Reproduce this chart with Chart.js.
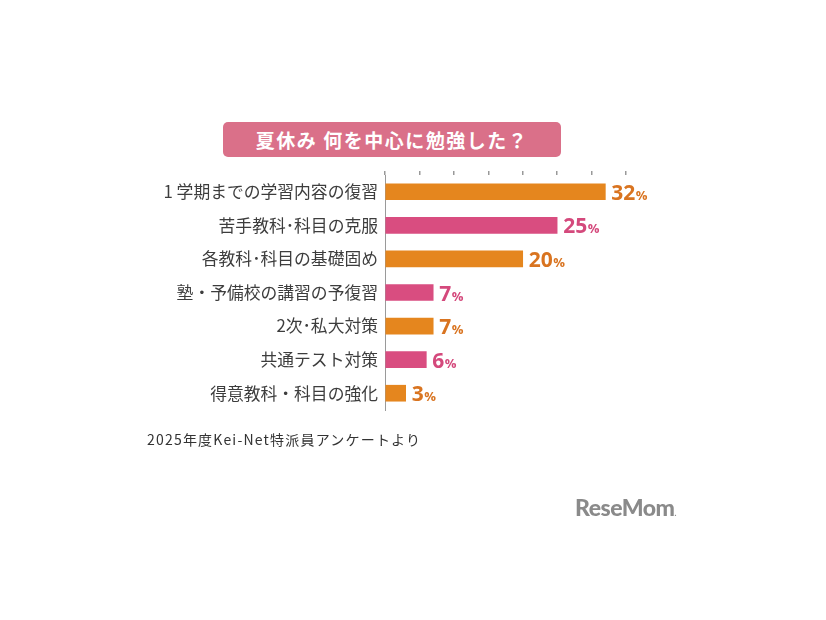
<!DOCTYPE html>
<html><head><meta charset="utf-8">
<script src="https://cdn.jsdelivr.net/npm/chart.js@4/dist/chart.umd.min.js"></script>
<style>
html,body{margin:0;padding:0;background:#fff;width:826px;height:620px;overflow:hidden;position:relative;font-family:"Noto Sans CJK JP","Noto Sans",sans-serif;}
#wrap{position:absolute;left:0;top:0;width:826px;height:620px;}
#title{position:absolute;left:223px;top:122px;width:338px;height:35px;background:#da7089;border-radius:5px;color:#fff;font-weight:bold;font-size:19px;line-height:35px;text-align:center;letter-spacing:1.5px;}
#note{position:absolute;left:147px;top:429px;font-size:14px;color:#333;letter-spacing:1.2px;}
#logo{position:absolute;left:575px;top:493px;font-family:"Lato","Open Sans",sans-serif;font-weight:900;font-size:23px;color:#8a8a8a;letter-spacing:-0.5px;}
</style></head>
<body>
<div id="wrap"><canvas id="c" width="826" height="620"></canvas></div>
<div id="title">夏休み 何を中心に勉強した？</div>
<div id="note">2025年度Kei-Net特派員アンケートより</div>
<div id="logo">ReseMom<span style="font-size:8px">.</span></div>
<script>
const categories = ["1 学期までの学習内容の復習","苦手教科･科目の克服","各教科･科目の基礎固め","塾・予備校の講習の予復習","2次･私大対策","共通テスト対策","得意教科・科目の強化"];
const values = [32,25,20,7,7,6,3];
const barColors = ["#e5861e","#d94d80","#e5861e","#d94d80","#e5861e","#d94d80","#e5861e"];
const labelColors = ["#d97420","#d4497c","#d97420","#d4497c","#d97420","#d4497c","#d97420"];

const valueLabels = {
  id:'valueLabels',
  afterDatasetsDraw(chart){
    const ctx = chart.ctx;
    const meta = chart.getDatasetMeta(0);
    meta.data.forEach((bar,i)=>{
      const v = String(values[i]);
      ctx.save();
      ctx.fillStyle = labelColors[i];
      ctx.textBaseline = 'alphabetic';
      ctx.font = 'bold 21px "Open Sans", sans-serif';
      const x = bar.x + 6;
      const y = bar.y + 8;
      ctx.fillText(v, x, y);
      const w = ctx.measureText(v).width;
      ctx.font = 'bold 13px "Open Sans", sans-serif';
      ctx.fillText('%', x + w + 0.5, y);
      ctx.restore();
    });
  }
};

new Chart(document.getElementById('c'),{
  type:'bar',
  data:{labels:categories,datasets:[{data:values,backgroundColor:barColors,barThickness:16,borderWidth:0}]},
  options:{
    indexAxis:'y',
    responsive:false,
    animation:false,
    layout:{padding:{left:0,right:200,top:163,bottom:210}},
    plugins:{legend:{display:false},tooltip:{enabled:false}},
    scales:{
      x:{position:'top',min:0,max:35,
        ticks:{display:false,stepSize:5},
        grid:{drawOnChartArea:false,drawTicks:true,tickLength:4,color:'#999',lineWidth:1.5},
        border:{display:false},
        afterFit(s){s.height=12;}
      },
      y:{
        ticks:{color:'#3d3d3d',font:{size:16.8,family:'"Noto Sans CJK JP"'},padding:7},
        grid:{display:false,drawTicks:false},
        border:{display:true,color:'#9a9a9a',width:1},
        afterFit(s){s.width=385;}
      }
    }
  },
  plugins:[valueLabels]
});
</script>
</body></html>
